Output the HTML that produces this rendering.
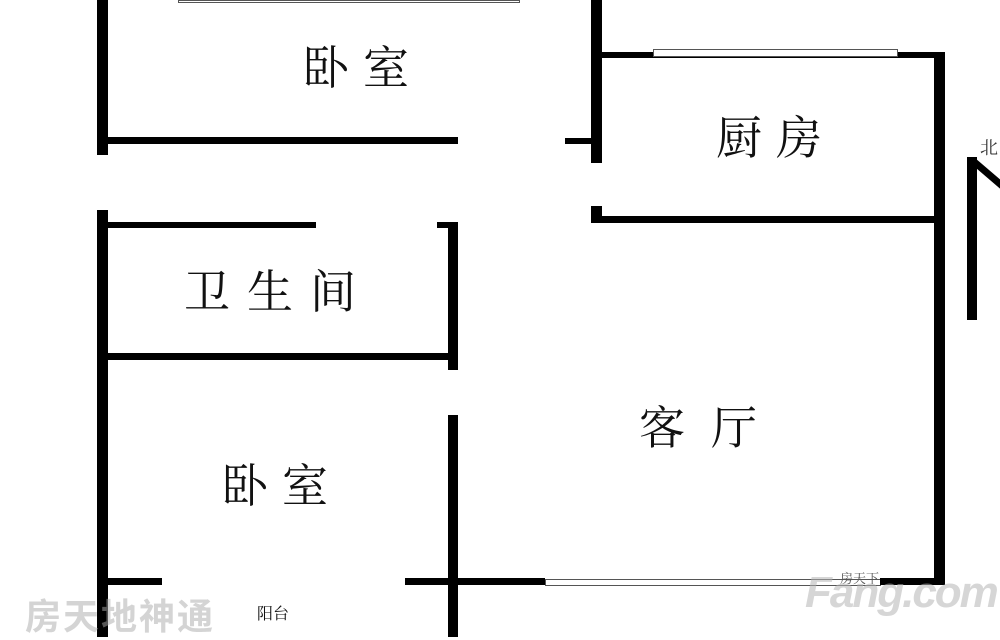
<!DOCTYPE html>
<html><head><meta charset="utf-8"><style>
body{margin:0;width:1000px;height:637px;background:#fff;position:relative;overflow:hidden;font-family:"Liberation Serif","Noto Serif CJK SC",serif;}
.w{position:absolute;background:#000;}
.t{position:absolute;font-size:46px;color:#111;letter-spacing:14px;line-height:1;white-space:nowrap;}
.win{position:absolute;border:1px solid #555;background:#fff;box-sizing:border-box;}
</style></head><body>
<div class="w" style="left:97px;top:0;width:11px;height:155px"></div>
<div class="w" style="left:97px;top:210px;width:11px;height:427px"></div>
<div class="win" style="left:178px;top:0;width:342px;height:3px"></div>
<div class="w" style="left:108px;top:137px;width:350px;height:7px"></div>
<div class="w" style="left:565px;top:138px;width:30px;height:6px"></div>
<div class="w" style="left:591px;top:0;width:11px;height:163px"></div>
<div class="w" style="left:591px;top:206px;width:11px;height:17px"></div>
<div class="w" style="left:602px;top:52px;width:343px;height:6px"></div>
<div class="win" style="left:653px;top:49px;width:245px;height:8px"></div>
<div class="w" style="left:934px;top:52px;width:11px;height:533px"></div>
<div class="w" style="left:591px;top:216px;width:345px;height:7px"></div>
<div class="w" style="left:108px;top:222px;width:208px;height:6px"></div>
<div class="w" style="left:437px;top:222px;width:21px;height:6px"></div>
<div class="w" style="left:448px;top:222px;width:10px;height:148px"></div>
<div class="w" style="left:108px;top:353px;width:345px;height:7px"></div>
<div class="w" style="left:448px;top:415px;width:10px;height:222px"></div>
<div class="w" style="left:108px;top:578px;width:54px;height:7px"></div>
<div class="w" style="left:405px;top:578px;width:140px;height:7px"></div>
<div class="win" style="left:545px;top:579px;width:336px;height:7px"></div>
<div class="w" style="left:880px;top:578px;width:65px;height:7px"></div>
<div class="w" style="left:967px;top:157px;width:10px;height:163px"></div>
<svg style="position:absolute;left:967px;top:150px" width="33" height="50"><line x1="5" y1="10" x2="40" y2="40" stroke="#000" stroke-width="7"/></svg>
<div style="position:absolute;left:980px;top:134px;font-size:18px;color:#333">北</div>
<div class="t" style="left:303px;top:46px">卧室</div>
<div class="t" style="left:716px;top:116px">厨房</div>
<div class="t" style="left:184px;top:270px;letter-spacing:17px">卫生间</div>
<div class="t" style="left:639px;top:406px;letter-spacing:26px">客厅</div>
<div class="t" style="left:222px;top:464px">卧室</div>
<div style="position:absolute;left:257px;top:601px;font-size:16px;color:#111">阳台</div>
<div style="position:absolute;left:25px;top:588px;font-size:36px;color:rgba(170,170,170,.5);font-family:'Noto Sans CJK SC',sans-serif;font-weight:bold;letter-spacing:2px">房天地神通</div>
<div style="position:absolute;left:805px;top:568px;font-size:44px;color:rgba(180,180,180,.55);font-family:'Liberation Sans',sans-serif;font-weight:bold;font-style:italic;letter-spacing:-2px">Fang.com</div>
<div style="position:absolute;left:840px;top:568px;font-size:13px;color:#555">房天下</div>
</body></html>
